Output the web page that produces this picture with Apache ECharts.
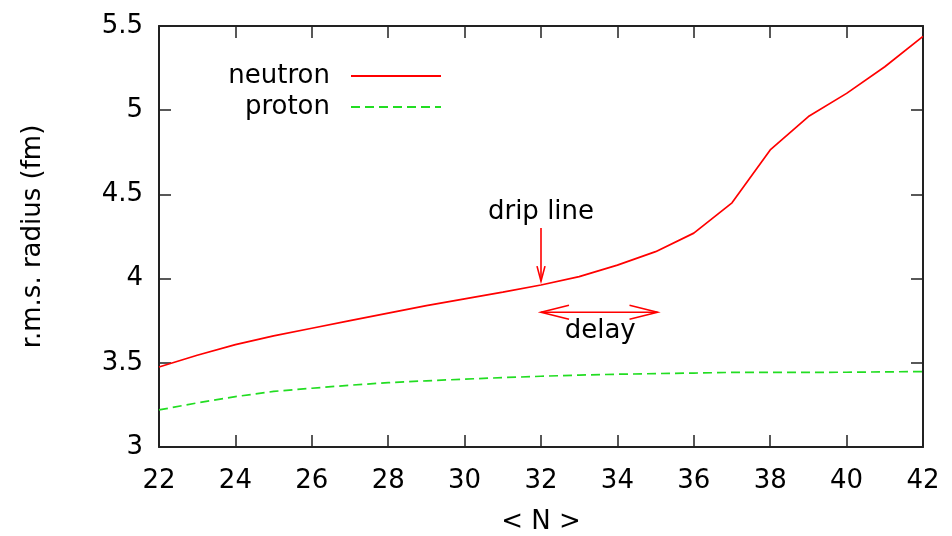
<!DOCTYPE html>
<html>
<head>
<meta charset="utf-8">
<script src="https://cdn.jsdelivr.net/npm/echarts@6/dist/echarts.min.js"></script>
<style>
  html, body { margin: 0; padding: 0; background: #fff; }
  #chart { width: 952px; height: 536px; }
</style>
</head>
<body>
<div id="chart"></div>
<script>
// Mean neutron number <N> along the chain
const nValues = [22, 23, 24, 25, 26, 27, 28, 29, 30, 31, 32, 33, 34, 35, 36, 37, 38, 39, 40, 41, 42];
// r.m.s. radii (fm)
const neutronRadius = [3.475, 3.545, 3.608, 3.660, 3.705, 3.750, 3.795, 3.840, 3.880, 3.920, 3.962,
                       4.012, 4.080, 4.160, 4.270, 4.450, 4.764, 4.962, 5.100, 5.258, 5.438];
const protonRadius  = [3.220, 3.262, 3.299, 3.330, 3.349, 3.367, 3.382, 3.393, 3.403, 3.412, 3.420,
                       3.427, 3.432, 3.436, 3.439, 3.443, 3.443, 3.443, 3.444, 3.446, 3.448];
const seriesNames = ['neutron', 'proton'];

// Annotation arrows: drip line (x, yStart, yEnd) and delay (xStart, xEnd, y)
const dripArrow = [32, 4.30, 3.985];
const delayArrow = [32, 35.05, 3.80];
const annotationLabels = ['drip line', 'delay'];
const dripLabelPos = [32, 4.395];
const delayLabelPos = [33.55, 3.69];

const FONT = 'DejaVu Sans';
const AXIS_COLOR = '#222';

const chart = echarts.init(document.getElementById('chart'), null, { renderer: 'canvas' });

function pairs(xs, ys) { return xs.map((x, i) => [x, ys[i]]); }

function arrowHead(tip, dirX, dirY, len, half) {
  // open V-shaped head pointing along (dirX, dirY)
  const bx = tip[0] - dirX * len, by = tip[1] - dirY * len;
  const px = -dirY * half, py = dirX * half;
  return [[bx + px, by + py], tip, [bx - px, by - py]];
}

const arrowStyle = { stroke: '#ff0000', lineWidth: 1.6, fill: null };
const textStyle = { fontFamily: FONT, fontSize: 26, fill: '#000', align: 'center', verticalAlign: 'middle' };

const axisCommon = {
  type: 'value',
  axisLine: { show: true, lineStyle: { color: AXIS_COLOR, width: 2 } },
  axisTick: { show: true, inside: true, length: 12, lineStyle: { color: AXIS_COLOR, width: 1.5 } },
  splitLine: { show: false }
};

chart.setOption({
  animation: false,
  backgroundColor: '#fff',
  grid: { left: 159, right: 29, top: 26, bottom: 89, containLabel: false, outerBoundsMode: 'none' },
  legend: {
    orient: 'vertical',
    left: 224,
    top: 63,
    padding: 0,
    align: 'right',
    itemWidth: 90,
    itemHeight: 12,
    itemGap: 5,
    data: seriesNames,
    itemStyle: { color: 'transparent', borderWidth: 0 },
    textStyle: { fontFamily: FONT, fontSize: 26, color: '#000', width: 106, align: 'right',
                 lineHeight: 26, padding: [0, 16, 0, 0] }
  },
  xAxis: [
    Object.assign({}, axisCommon, {
      min: 22, max: 42, interval: 2, position: 'bottom',
      name: '< N >', nameLocation: 'middle', nameGap: 62,
      nameTextStyle: { fontFamily: FONT, fontSize: 26, color: '#000' },
      axisLabel: { fontFamily: FONT, fontSize: 26, color: '#000', margin: 21 }
    }),
    Object.assign({}, axisCommon, {
      min: 22, max: 42, interval: 2, position: 'top',
      axisLabel: { show: false }
    })
  ],
  yAxis: [
    Object.assign({}, axisCommon, {
      min: 3, max: 5.5, interval: 0.5, position: 'left',
      name: 'r.m.s. radius (fm)', nameLocation: 'middle', nameGap: 113,
      nameTextStyle: { fontFamily: FONT, fontSize: 26, color: '#000' },
      axisLabel: { fontFamily: FONT, fontSize: 26, color: '#000', margin: 16 }
    }),
    Object.assign({}, axisCommon, {
      min: 3, max: 5.5, interval: 0.5, position: 'right',
      axisLabel: { show: false }
    })
  ],
  series: [
    {
      name: seriesNames[0], type: 'line', xAxisIndex: 0, yAxisIndex: 0,
      data: pairs(nValues, neutronRadius),
      showSymbol: false, symbol: 'none',
      lineStyle: { color: '#ff0000', width: 1.7 },
      itemStyle: { color: '#ff0000' }
    },
    {
      name: seriesNames[1], type: 'line', xAxisIndex: 0, yAxisIndex: 0,
      data: pairs(nValues, protonRadius),
      showSymbol: false, symbol: 'none',
      lineStyle: { color: '#22dd22', width: 1.7, type: [9, 5] },
      itemStyle: { color: '#22dd22' }
    },
    {
      // drip line arrow with its label
      type: 'custom', xAxisIndex: 0, yAxisIndex: 0, silent: true,
      data: [dripArrow],
      renderItem: function (params, api) {
        const top = api.coord([api.value(0), api.value(1)]);
        const tip = api.coord([api.value(0), api.value(2)]);
        const lab = api.coord(dripLabelPos);
        return {
          type: 'group',
          children: [
            { type: 'polyline', shape: { points: [top, tip] }, style: arrowStyle },
            { type: 'polyline', shape: { points: arrowHead(tip, 0, 1, 15, 4) }, style: arrowStyle },
            { type: 'text', x: lab[0], y: lab[1], style: Object.assign({ text: annotationLabels[0] }, textStyle) }
          ]
        };
      }
    },
    {
      // delay double arrow with its label
      type: 'custom', xAxisIndex: 0, yAxisIndex: 0, silent: true,
      data: [delayArrow],
      renderItem: function (params, api) {
        const a = api.coord([api.value(0), api.value(2)]);
        const b = api.coord([api.value(1), api.value(2)]);
        const lab = api.coord(delayLabelPos);
        return {
          type: 'group',
          children: [
            { type: 'polyline', shape: { points: [a, b] }, style: arrowStyle },
            { type: 'polyline', shape: { points: arrowHead(a, -1, 0, 28, 7) }, style: arrowStyle },
            { type: 'polyline', shape: { points: arrowHead(b, 1, 0, 28, 7) }, style: arrowStyle },
            { type: 'text', x: lab[0], y: lab[1], style: Object.assign({ text: annotationLabels[1] }, textStyle) }
          ]
        };
      }
    }
  ]
});
</script>
</body>
</html>
